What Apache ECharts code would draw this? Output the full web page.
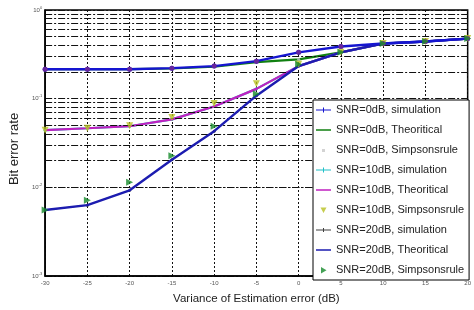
<!DOCTYPE html>
<html>
<head>
<meta charset="utf-8">
<script src="https://cdn.jsdelivr.net/npm/echarts@6/dist/echarts.min.js"></script>
<style>
  html, body { margin: 0; padding: 0; background: #fff; }
  #chart { width: 474px; height: 310px; }
</style>
</head>
<body>
<div id="chart"></div>
<script>
// variance of estimation error (dB)
var xVals = [-30, -25, -20, -15, -10, -5, 0, 5, 10, 15, 20]

// SNR = 0 dB
var snr0Sim = [0.215, 0.215, 0.215, 0.221, 0.233, 0.265, 0.333, 0.388, 0.419, 0.441, 0.476]
var snr0Theory = [0.215, 0.215, 0.215, 0.219, 0.229, 0.258, 0.278, 0.333, 0.419, 0.441, 0.476]
var snr0Simpson = [0.215, 0.215, 0.215, 0.219, 0.229, 0.258, 0.278, 0.333, 0.419, 0.441, 0.476]

// SNR = 10 dB
var snr10Sim = [0.0441, 0.0464, 0.0489, 0.0584, 0.0815, 0.129, 0.233, 0.333, 0.419, 0.441, 0.476]
var snr10Theory = [0.0441, 0.0464, 0.0489, 0.0584, 0.0815, 0.129, 0.233, 0.333, 0.419, 0.441, 0.476]
var snr10Simpson = [0.0441, 0.0464, 0.0495, 0.0615, 0.088, 0.147, 0.245, 0.333, 0.419, 0.441, 0.476]

// SNR = 20 dB
var snr20Sim = [0.00555, 0.0063, 0.00926, 0.0205, 0.043, 0.108, 0.233, 0.333, 0.419, 0.441, 0.476]
var snr20Theory = [0.00555, 0.0063, 0.00926, 0.0205, 0.043, 0.108, 0.233, 0.333, 0.419, 0.441, 0.476]
var snr20Simpson = [0.00555, 0.00717, 0.0114, 0.0227, 0.0489, 0.1136, 0.245, 0.333, 0.419, 0.441, 0.476]

// log grid: decades and the 2..9 steps inside them
var decades = [0.001, 0.01, 0.1]
var minorSteps = [2, 3, 4, 5, 6, 7, 8, 9]

function pairs(ys) {
  return xVals.map(function (x, i) { return [x, ys[i]] })
}

var minorLines = []
decades.forEach(function (d) {
  minorSteps.forEach(function (m) {
    minorLines.push({ yAxis: +(d * m).toPrecision(3) })
  })
})

// legend icons (tiny corner dots keep the 15x14 box so the line stays thin)
var box = 'M0,0L0.2,0L0,0.2Z M15,14L14.8,14L15,13.8Z '
var iconLine = 'path://' + box + 'M0,6.2L15,6.2L15,7.8L0,7.8Z'
var iconSim = 'path://' + box + 'M0,6.4L15,6.4L15,7.6L0,7.6Z M7,4.5L8,4.5L8,9.5L7,9.5Z'
var iconThinSim = 'path://' + box + 'M0,6.6L15,6.6L15,7.4L0,7.4Z M7,5L8,5L8,9L7,9Z'
var iconDot = 'path://' + box + 'M6,6L9,6L9,9L6,9Z'
var iconDown = 'path://' + box + 'M4.5,4.5L10.5,4.5L7.5,10Z'
var iconRight = 'path://' + box + 'M5,4L10.5,7.2L5,10.4Z'

var gridDash = [7, 2, 2, 2]
var font = '"Liberation Sans", Arial, sans-serif'

var chart = echarts.init(document.getElementById('chart'))

chart.setOption({
  animation: false,
  backgroundColor: '#fff',
  grid: {
    left: 28,
    right: 6,
    top: 10,
    bottom: 30,
    show: true,
    borderColor: '#000',
    borderWidth: 1.5
  },
  xAxis: {
    type: 'value',
    min: -30,
    max: 20,
    interval: 5,
    name: 'Variance of Estimation error (dB)',
    nameLocation: 'middle',
    nameGap: 17,
    nameTextStyle: { fontSize: 11.5, color: '#222', fontFamily: font },
    axisLine: { onZero: false, lineStyle: { color: '#000', width: 1.5 } },
    axisTick: { show: false },
    axisLabel: { fontSize: 6, color: '#555', margin: 4 },
    splitLine: { show: true, lineStyle: { color: '#111', type: [2, 2], width: 1 } }
  },
  yAxis: {
    type: 'log',
    logBase: 10,
    min: 0.001,
    max: 1,
    name: 'Bit error rate',
    nameLocation: 'middle',
    nameGap: 16,
    nameTextStyle: { fontSize: 13, color: '#222', fontFamily: font, padding: [0, 12, 0, 0] },
    axisLine: { onZero: false, lineStyle: { color: '#000', width: 1.5 } },
    axisTick: { show: false },
    axisLabel: {
      margin: 3,
      formatter: function (v) {
        var e = Math.round(Math.log10(v))
        return '{b|10}{s|' + e + '}'
      },
      rich: {
        b: { fontSize: 6, color: '#555' },
        s: { fontSize: 4, color: '#555', verticalAlign: 'top', padding: [0, 0, 5, 0] }
      }
    },
    splitLine: { show: true, lineStyle: { color: '#111', type: gridDash, width: 1 } }
  },
  legend: {
    z: 20,
    orient: 'vertical',
    left: 313,
    top: 100,
    padding: [3, 5, 3, 3],
    itemWidth: 15,
    itemHeight: 14,
    itemGap: 6,
    backgroundColor: '#fff',
    borderColor: '#000',
    borderWidth: 1,
    textStyle: { fontSize: 11, color: '#222', fontFamily: font },
    data: [
      { name: 'SNR=0dB, simulation', icon: iconSim },
      { name: 'SNR=0dB, Theoritical', icon: iconLine },
      { name: 'SNR=0dB, Simpsonsrule', icon: iconDot },
      { name: 'SNR=10dB, simulation', icon: iconSim },
      { name: 'SNR=10dB, Theoritical', icon: iconLine },
      { name: 'SNR=10dB, Simpsonsrule', icon: iconDown },
      { name: 'SNR=20dB, simulation', icon: iconThinSim },
      { name: 'SNR=20dB, Theoritical', icon: iconLine },
      { name: 'SNR=20dB, Simpsonsrule', icon: iconRight }
    ]
  },
  series: [
    {
      name: 'grid-minor',
      type: 'line',
      data: [],
      silent: true,
      z: 1,
      markLine: {
        silent: true,
        symbol: 'none',
        label: { show: false },
        lineStyle: { color: '#111', type: gridDash, width: 1 },
        data: minorLines
      }
    },
    {
      name: 'SNR=0dB, Theoritical', type: 'line', data: pairs(snr0Theory),
      symbol: 'none', lineStyle: { color: '#118011', width: 2.2 }, itemStyle: { color: '#118011' }, z: 3
    },
    {
      name: 'SNR=0dB, Simpsonsrule', type: 'scatter', data: pairs(snr0Simpson),
      symbol: 'circle', symbolSize: 3, itemStyle: { color: '#c8c8c8' }, z: 3
    },
    {
      name: 'SNR=10dB, simulation', type: 'line', data: pairs(snr10Sim),
      symbol: 'circle', symbolSize: 3, lineStyle: { color: '#20c0c8', width: 2.2 }, itemStyle: { color: '#20c0c8' }, z: 3
    },
    {
      name: 'SNR=10dB, Theoritical', type: 'line', data: pairs(snr10Theory),
      symbol: 'none', lineStyle: { color: '#c020c0', width: 2.2 }, itemStyle: { color: '#c020c0' }, z: 4
    },
    {
      name: 'SNR=10dB, Simpsonsrule', type: 'scatter', data: pairs(snr10Simpson),
      symbol: 'triangle', symbolRotate: 180, symbolSize: 7, itemStyle: { color: '#b8c020' }, z: 6
    },
    {
      name: 'SNR=20dB, simulation', type: 'line', data: pairs(snr20Sim),
      symbol: 'circle', symbolSize: 3, lineStyle: { color: '#404040', width: 1 }, itemStyle: { color: '#404040' }, z: 3
    },
    {
      name: 'SNR=20dB, Theoritical', type: 'line', data: pairs(snr20Theory),
      symbol: 'none', lineStyle: { color: '#1c1cb0', width: 2.4 }, itemStyle: { color: '#1c1cb0' }, z: 5
    },
    {
      name: 'SNR=0dB, simulation', type: 'line', data: pairs(snr0Sim),
      symbol: 'circle', symbolSize: 5, lineStyle: { color: '#1515d0', width: 2.4 },
      itemStyle: { color: '#1515d0' }, z: 5
    },
    {
      name: 'SNR=0dB, simulation', type: 'scatter', data: pairs(snr0Sim),
      symbol: 'circle', symbolSize: 5, itemStyle: { color: '#7a2a8e' }, z: 6, legendHoverLink: false
    },
    {
      name: 'SNR=20dB, Simpsonsrule', type: 'scatter', data: pairs(snr20Simpson),
      symbol: 'triangle', symbolRotate: -90, symbolSize: 7, itemStyle: { color: '#158a2a' }, z: 6
    }
  ]
})
</script>
</body>
</html>
